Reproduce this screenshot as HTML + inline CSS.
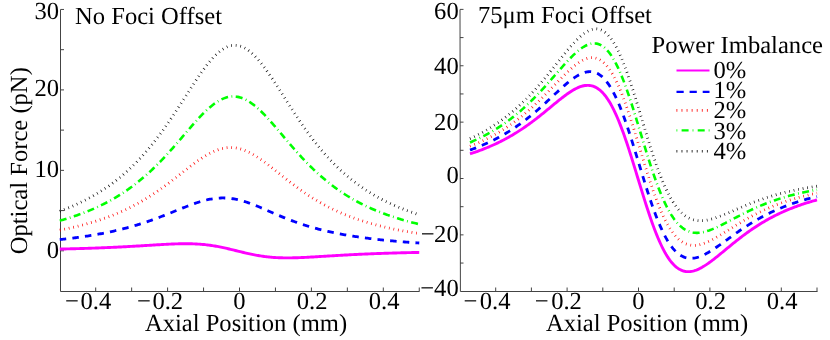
<!DOCTYPE html>
<html><head><meta charset="utf-8"><title>Optical Force</title>
<style>html,body{margin:0;padding:0;background:#fff;}body{width:830px;height:340px;position:relative;overflow:hidden;font-family:"Liberation Serif",serif;}</style>
</head><body>
<svg width="830" height="340" viewBox="0 0 830 340" style="position:absolute;left:0;top:0;will-change:transform">
<rect width="830" height="340" fill="#fff"/>
<path d="M60.5 9.5 L60.5 291.5 H419.5" fill="none" stroke="#444" stroke-width="1"/>
<path d="M95.70 291.5 v-4.0" stroke="#444" stroke-width="1"/>
<path d="M131.65 291.5 v-4.0" stroke="#444" stroke-width="1"/>
<path d="M167.60 291.5 v-4.0" stroke="#444" stroke-width="1"/>
<path d="M203.55 291.5 v-4.0" stroke="#444" stroke-width="1"/>
<path d="M239.50 291.5 v-4.0" stroke="#444" stroke-width="1"/>
<path d="M275.45 291.5 v-4.0" stroke="#444" stroke-width="1"/>
<path d="M311.40 291.5 v-4.0" stroke="#444" stroke-width="1"/>
<path d="M347.35 291.5 v-4.0" stroke="#444" stroke-width="1"/>
<path d="M383.30 291.5 v-4.0" stroke="#444" stroke-width="1"/>
<path d="M419.25 291.5 v-4.0" stroke="#444" stroke-width="1"/>
<path d="M60.5 250.80 h3.5" stroke="#444" stroke-width="1"/>
<path d="M60.5 210.58 h3.5" stroke="#444" stroke-width="1"/>
<path d="M60.5 170.35 h3.5" stroke="#444" stroke-width="1"/>
<path d="M60.5 130.12 h3.5" stroke="#444" stroke-width="1"/>
<path d="M60.5 89.90 h3.5" stroke="#444" stroke-width="1"/>
<path d="M60.5 49.68 h3.5" stroke="#444" stroke-width="1"/>
<path d="M60.5 9.45 h3.5" stroke="#444" stroke-width="1"/>
<path d="M460.0 9.5 L460.4 291.5 H817.5" fill="none" stroke="#444" stroke-width="1"/>
<path d="M495.70 291.5 v-4.0" stroke="#444" stroke-width="1"/>
<path d="M531.40 291.5 v-4.0" stroke="#444" stroke-width="1"/>
<path d="M567.10 291.5 v-4.0" stroke="#444" stroke-width="1"/>
<path d="M602.80 291.5 v-4.0" stroke="#444" stroke-width="1"/>
<path d="M638.50 291.5 v-4.0" stroke="#444" stroke-width="1"/>
<path d="M674.20 291.5 v-4.0" stroke="#444" stroke-width="1"/>
<path d="M709.90 291.5 v-4.0" stroke="#444" stroke-width="1"/>
<path d="M745.60 291.5 v-4.0" stroke="#444" stroke-width="1"/>
<path d="M781.30 291.5 v-4.0" stroke="#444" stroke-width="1"/>
<path d="M817.00 291.5 v-4.0" stroke="#444" stroke-width="1"/>
<path d="M460.0 263.06 h3.5" stroke="#444" stroke-width="1"/>
<path d="M460.0 234.87 h3.5" stroke="#444" stroke-width="1"/>
<path d="M460.0 206.69 h3.5" stroke="#444" stroke-width="1"/>
<path d="M460.0 178.50 h3.5" stroke="#444" stroke-width="1"/>
<path d="M460.0 150.31 h3.5" stroke="#444" stroke-width="1"/>
<path d="M460.0 122.13 h3.5" stroke="#444" stroke-width="1"/>
<path d="M460.0 93.95 h3.5" stroke="#444" stroke-width="1"/>
<path d="M460.0 65.76 h3.5" stroke="#444" stroke-width="1"/>
<path d="M460.0 37.58 h3.5" stroke="#444" stroke-width="1"/>
<path d="M460.0 9.39 h3.5" stroke="#444" stroke-width="1"/>
<path d="M59.75 249.07 L60.95 249.05 L62.15 249.02 L63.36 248.99 L64.56 248.96 L65.76 248.94 L66.96 248.91 L68.17 248.88 L69.37 248.85 L70.57 248.82 L71.77 248.79 L72.98 248.76 L74.18 248.73 L75.38 248.69 L76.58 248.66 L77.79 248.63 L78.99 248.59 L80.19 248.56 L81.39 248.52 L82.59 248.49 L83.80 248.45 L85.00 248.41 L86.20 248.37 L87.40 248.33 L88.61 248.30 L89.81 248.26 L91.01 248.21 L92.21 248.17 L93.42 248.13 L94.62 248.09 L95.82 248.04 L97.02 248.00 L98.22 247.95 L99.43 247.91 L100.63 247.86 L101.83 247.81 L103.03 247.77 L104.24 247.72 L105.44 247.67 L106.64 247.61 L107.84 247.56 L109.05 247.51 L110.25 247.46 L111.45 247.40 L112.65 247.35 L113.86 247.29 L115.06 247.24 L116.26 247.18 L117.46 247.12 L118.66 247.06 L119.87 247.00 L121.07 246.94 L122.27 246.88 L123.47 246.81 L124.68 246.75 L125.88 246.69 L127.08 246.62 L128.28 246.55 L129.49 246.49 L130.69 246.42 L131.89 246.35 L133.09 246.28 L134.30 246.21 L135.50 246.14 L136.70 246.07 L137.90 246.00 L139.10 245.93 L140.31 245.86 L141.51 245.78 L142.71 245.71 L143.91 245.64 L145.12 245.56 L146.32 245.49 L147.52 245.41 L148.72 245.34 L149.93 245.27 L151.13 245.19 L152.33 245.12 L153.53 245.04 L154.73 244.97 L155.94 244.90 L157.14 244.82 L158.34 244.75 L159.54 244.68 L160.75 244.61 L161.95 244.54 L163.15 244.48 L164.35 244.41 L165.56 244.35 L166.76 244.29 L167.96 244.23 L169.16 244.17 L170.37 244.11 L171.57 244.06 L172.77 244.01 L173.97 243.96 L175.17 243.92 L176.38 243.88 L177.58 243.84 L178.78 243.81 L179.98 243.78 L181.19 243.76 L182.39 243.74 L183.59 243.73 L184.79 243.72 L186.00 243.72 L187.20 243.73 L188.40 243.74 L189.60 243.75 L190.81 243.78 L192.01 243.81 L193.21 243.85 L194.41 243.89 L195.61 243.95 L196.82 244.01 L198.02 244.08 L199.22 244.16 L200.42 244.24 L201.63 244.34 L202.83 244.45 L204.03 244.56 L205.23 244.68 L206.44 244.82 L207.64 244.96 L208.84 245.11 L210.04 245.27 L211.24 245.45 L212.45 245.63 L213.65 245.82 L214.85 246.01 L216.05 246.22 L217.26 246.44 L218.46 246.66 L219.66 246.90 L220.86 247.14 L222.07 247.39 L223.27 247.64 L224.47 247.90 L225.67 248.17 L226.88 248.45 L228.08 248.72 L229.28 249.01 L230.48 249.29 L231.68 249.59 L232.89 249.88 L234.09 250.17 L235.29 250.47 L236.49 250.77 L237.70 251.07 L238.90 251.36 L240.10 251.66 L241.30 251.95 L242.51 252.24 L243.71 252.53 L244.91 252.81 L246.11 253.09 L247.32 253.37 L248.52 253.64 L249.72 253.90 L250.92 254.16 L252.12 254.41 L253.33 254.65 L254.53 254.89 L255.73 255.11 L256.93 255.33 L258.14 255.54 L259.34 255.74 L260.54 255.93 L261.74 256.12 L262.95 256.29 L264.15 256.45 L265.35 256.61 L266.55 256.75 L267.76 256.89 L268.96 257.01 L270.16 257.13 L271.36 257.24 L272.56 257.34 L273.77 257.43 L274.97 257.51 L276.17 257.58 L277.37 257.64 L278.58 257.70 L279.78 257.74 L280.98 257.78 L282.18 257.82 L283.39 257.84 L284.59 257.86 L285.79 257.87 L286.99 257.88 L288.19 257.88 L289.40 257.87 L290.60 257.86 L291.80 257.84 L293.00 257.82 L294.21 257.79 L295.41 257.76 L296.61 257.73 L297.81 257.69 L299.02 257.65 L300.22 257.60 L301.42 257.55 L302.62 257.50 L303.83 257.44 L305.03 257.39 L306.23 257.33 L307.43 257.27 L308.63 257.20 L309.84 257.14 L311.04 257.07 L312.24 257.00 L313.44 256.93 L314.65 256.86 L315.85 256.79 L317.05 256.72 L318.25 256.65 L319.46 256.57 L320.66 256.50 L321.86 256.42 L323.06 256.35 L324.27 256.28 L325.47 256.20 L326.67 256.13 L327.87 256.05 L329.07 255.98 L330.28 255.91 L331.48 255.83 L332.68 255.76 L333.88 255.69 L335.09 255.61 L336.29 255.54 L337.49 255.47 L338.69 255.40 L339.90 255.33 L341.10 255.26 L342.30 255.19 L343.50 255.13 L344.70 255.06 L345.91 254.99 L347.11 254.93 L348.31 254.86 L349.51 254.80 L350.72 254.74 L351.92 254.67 L353.12 254.61 L354.32 254.55 L355.53 254.49 L356.73 254.44 L357.93 254.38 L359.13 254.32 L360.34 254.26 L361.54 254.21 L362.74 254.15 L363.94 254.10 L365.14 254.05 L366.35 254.00 L367.55 253.95 L368.75 253.89 L369.95 253.85 L371.16 253.80 L372.36 253.75 L373.56 253.70 L374.76 253.66 L375.97 253.61 L377.17 253.57 L378.37 253.52 L379.57 253.48 L380.78 253.44 L381.98 253.39 L383.18 253.35 L384.38 253.31 L385.58 253.27 L386.79 253.23 L387.99 253.20 L389.19 253.16 L390.39 253.12 L391.60 253.09 L392.80 253.05 L394.00 253.02 L395.20 252.98 L396.41 252.95 L397.61 252.91 L398.81 252.88 L400.01 252.85 L401.21 252.82 L402.42 252.79 L403.62 252.76 L404.82 252.73 L406.02 252.70 L407.23 252.67 L408.43 252.64 L409.63 252.61 L410.83 252.59 L412.04 252.56 L413.24 252.53 L414.44 252.51 L415.64 252.48 L416.85 252.46 L418.05 252.43 L419.25 252.41" fill="none" stroke="#ff00ff" stroke-width="2.9"/>
<path d="M59.75 239.61 L60.95 239.48 L62.15 239.35 L63.36 239.21 L64.56 239.08 L65.76 238.94 L66.96 238.80 L68.17 238.65 L69.37 238.51 L70.57 238.36 L71.77 238.21 L72.98 238.05 L74.18 237.90 L75.38 237.74 L76.58 237.58 L77.79 237.42 L78.99 237.25 L80.19 237.08 L81.39 236.91 L82.59 236.74 L83.80 236.56 L85.00 236.38 L86.20 236.20 L87.40 236.01 L88.61 235.82 L89.81 235.63 L91.01 235.43 L92.21 235.24 L93.42 235.03 L94.62 234.83 L95.82 234.62 L97.02 234.41 L98.22 234.19 L99.43 233.97 L100.63 233.75 L101.83 233.52 L103.03 233.29 L104.24 233.06 L105.44 232.82 L106.64 232.58 L107.84 232.33 L109.05 232.08 L110.25 231.82 L111.45 231.57 L112.65 231.30 L113.86 231.04 L115.06 230.76 L116.26 230.49 L117.46 230.21 L118.66 229.92 L119.87 229.63 L121.07 229.34 L122.27 229.04 L123.47 228.73 L124.68 228.42 L125.88 228.11 L127.08 227.79 L128.28 227.46 L129.49 227.14 L130.69 226.80 L131.89 226.46 L133.09 226.12 L134.30 225.77 L135.50 225.41 L136.70 225.05 L137.90 224.69 L139.10 224.32 L140.31 223.94 L141.51 223.56 L142.71 223.17 L143.91 222.78 L145.12 222.38 L146.32 221.98 L147.52 221.57 L148.72 221.16 L149.93 220.74 L151.13 220.32 L152.33 219.89 L153.53 219.46 L154.73 219.02 L155.94 218.58 L157.14 218.14 L158.34 217.69 L159.54 217.23 L160.75 216.77 L161.95 216.31 L163.15 215.85 L164.35 215.38 L165.56 214.90 L166.76 214.43 L167.96 213.95 L169.16 213.47 L170.37 212.99 L171.57 212.50 L172.77 212.02 L173.97 211.53 L175.17 211.04 L176.38 210.56 L177.58 210.07 L178.78 209.58 L179.98 209.10 L181.19 208.62 L182.39 208.13 L183.59 207.66 L184.79 207.18 L186.00 206.71 L187.20 206.25 L188.40 205.79 L189.60 205.33 L190.81 204.89 L192.01 204.45 L193.21 204.01 L194.41 203.59 L195.61 203.18 L196.82 202.77 L198.02 202.38 L199.22 202.00 L200.42 201.63 L201.63 201.28 L202.83 200.94 L204.03 200.61 L205.23 200.31 L206.44 200.01 L207.64 199.74 L208.84 199.48 L210.04 199.24 L211.24 199.01 L212.45 198.81 L213.65 198.63 L214.85 198.47 L216.05 198.33 L217.26 198.21 L218.46 198.12 L219.66 198.04 L220.86 197.99 L222.07 197.96 L223.27 197.96 L224.47 197.98 L225.67 198.02 L226.88 198.08 L228.08 198.17 L229.28 198.28 L230.48 198.41 L231.68 198.57 L232.89 198.75 L234.09 198.95 L235.29 199.17 L236.49 199.41 L237.70 199.67 L238.90 199.96 L240.10 200.26 L241.30 200.58 L242.51 200.92 L243.71 201.27 L244.91 201.64 L246.11 202.03 L247.32 202.43 L248.52 202.85 L249.72 203.28 L250.92 203.72 L252.12 204.17 L253.33 204.63 L254.53 205.10 L255.73 205.58 L256.93 206.07 L258.14 206.57 L259.34 207.07 L260.54 207.58 L261.74 208.09 L262.95 208.60 L264.15 209.12 L265.35 209.64 L266.55 210.17 L267.76 210.69 L268.96 211.22 L270.16 211.74 L271.36 212.26 L272.56 212.78 L273.77 213.31 L274.97 213.82 L276.17 214.34 L277.37 214.85 L278.58 215.36 L279.78 215.86 L280.98 216.37 L282.18 216.86 L283.39 217.35 L284.59 217.84 L285.79 218.32 L286.99 218.80 L288.19 219.27 L289.40 219.73 L290.60 220.19 L291.80 220.65 L293.00 221.09 L294.21 221.53 L295.41 221.97 L296.61 222.40 L297.81 222.82 L299.02 223.23 L300.22 223.64 L301.42 224.05 L302.62 224.44 L303.83 224.83 L305.03 225.22 L306.23 225.59 L307.43 225.97 L308.63 226.33 L309.84 226.69 L311.04 227.04 L312.24 227.39 L313.44 227.73 L314.65 228.07 L315.85 228.40 L317.05 228.72 L318.25 229.04 L319.46 229.35 L320.66 229.66 L321.86 229.96 L323.06 230.26 L324.27 230.55 L325.47 230.84 L326.67 231.12 L327.87 231.39 L329.07 231.66 L330.28 231.93 L331.48 232.19 L332.68 232.45 L333.88 232.70 L335.09 232.95 L336.29 233.19 L337.49 233.43 L338.69 233.67 L339.90 233.90 L341.10 234.12 L342.30 234.35 L343.50 234.57 L344.70 234.78 L345.91 234.99 L347.11 235.20 L348.31 235.40 L349.51 235.60 L350.72 235.80 L351.92 236.00 L353.12 236.19 L354.32 236.37 L355.53 236.56 L356.73 236.74 L357.93 236.91 L359.13 237.09 L360.34 237.26 L361.54 237.43 L362.74 237.60 L363.94 237.76 L365.14 237.92 L366.35 238.08 L367.55 238.23 L368.75 238.38 L369.95 238.53 L371.16 238.68 L372.36 238.83 L373.56 238.97 L374.76 239.11 L375.97 239.25 L377.17 239.38 L378.37 239.52 L379.57 239.65 L380.78 239.78 L381.98 239.90 L383.18 240.03 L384.38 240.15 L385.58 240.27 L386.79 240.39 L387.99 240.51 L389.19 240.63 L390.39 240.74 L391.60 240.85 L392.80 240.96 L394.00 241.07 L395.20 241.18 L396.41 241.28 L397.61 241.39 L398.81 241.49 L400.01 241.59 L401.21 241.69 L402.42 241.79 L403.62 241.88 L404.82 241.98 L406.02 242.07 L407.23 242.16 L408.43 242.25 L409.63 242.34 L410.83 242.43 L412.04 242.52 L413.24 242.60 L414.44 242.68 L415.64 242.77 L416.85 242.85 L418.05 242.93 L419.25 243.01" fill="none" stroke="#0000ff" stroke-width="2.8" stroke-dasharray="6.5 6.2"/>
<path d="M59.75 230.15 L60.95 229.91 L62.15 229.67 L63.36 229.43 L64.56 229.19 L65.76 228.94 L66.96 228.68 L68.17 228.43 L69.37 228.16 L70.57 227.90 L71.77 227.63 L72.98 227.35 L74.18 227.07 L75.38 226.79 L76.58 226.50 L77.79 226.21 L78.99 225.91 L80.19 225.61 L81.39 225.30 L82.59 224.99 L83.80 224.67 L85.00 224.35 L86.20 224.02 L87.40 223.69 L88.61 223.35 L89.81 223.01 L91.01 222.66 L92.21 222.30 L93.42 221.94 L94.62 221.57 L95.82 221.20 L97.02 220.82 L98.22 220.43 L99.43 220.04 L100.63 219.64 L101.83 219.23 L103.03 218.82 L104.24 218.40 L105.44 217.97 L106.64 217.54 L107.84 217.10 L109.05 216.65 L110.25 216.19 L111.45 215.73 L112.65 215.26 L113.86 214.78 L115.06 214.29 L116.26 213.80 L117.46 213.29 L118.66 212.78 L119.87 212.26 L121.07 211.73 L122.27 211.20 L123.47 210.65 L124.68 210.09 L125.88 209.53 L127.08 208.96 L128.28 208.37 L129.49 207.78 L130.69 207.18 L131.89 206.57 L133.09 205.95 L134.30 205.32 L135.50 204.68 L136.70 204.03 L137.90 203.37 L139.10 202.70 L140.31 202.02 L141.51 201.33 L142.71 200.63 L143.91 199.92 L145.12 199.20 L146.32 198.47 L147.52 197.73 L148.72 196.98 L149.93 196.22 L151.13 195.45 L152.33 194.67 L153.53 193.88 L154.73 193.08 L155.94 192.27 L157.14 191.45 L158.34 190.62 L159.54 189.78 L160.75 188.93 L161.95 188.08 L163.15 187.21 L164.35 186.34 L165.56 185.46 L166.76 184.57 L167.96 183.67 L169.16 182.77 L170.37 181.86 L171.57 180.94 L172.77 180.02 L173.97 179.10 L175.17 178.17 L176.38 177.23 L177.58 176.29 L178.78 175.35 L179.98 174.41 L181.19 173.47 L182.39 172.53 L183.59 171.58 L184.79 170.64 L186.00 169.70 L187.20 168.77 L188.40 167.84 L189.60 166.91 L190.81 165.99 L192.01 165.08 L193.21 164.18 L194.41 163.29 L195.61 162.41 L196.82 161.54 L198.02 160.69 L199.22 159.85 L200.42 159.03 L201.63 158.22 L202.83 157.43 L204.03 156.67 L205.23 155.93 L206.44 155.21 L207.64 154.51 L208.84 153.84 L210.04 153.20 L211.24 152.58 L212.45 152.00 L213.65 151.45 L214.85 150.93 L216.05 150.44 L217.26 149.99 L218.46 149.57 L219.66 149.19 L220.86 148.85 L222.07 148.54 L223.27 148.28 L224.47 148.05 L225.67 147.86 L226.88 147.72 L228.08 147.61 L229.28 147.55 L230.48 147.53 L231.68 147.55 L232.89 147.61 L234.09 147.72 L235.29 147.86 L236.49 148.05 L237.70 148.28 L238.90 148.55 L240.10 148.86 L241.30 149.20 L242.51 149.59 L243.71 150.01 L244.91 150.47 L246.11 150.96 L247.32 151.49 L248.52 152.05 L249.72 152.65 L250.92 153.27 L252.12 153.93 L253.33 154.61 L254.53 155.32 L255.73 156.05 L256.93 156.81 L258.14 157.59 L259.34 158.40 L260.54 159.22 L261.74 160.06 L262.95 160.92 L264.15 161.79 L265.35 162.68 L266.55 163.58 L267.76 164.49 L268.96 165.42 L270.16 166.35 L271.36 167.29 L272.56 168.23 L273.77 169.18 L274.97 170.14 L276.17 171.10 L277.37 172.06 L278.58 173.02 L279.78 173.98 L280.98 174.95 L282.18 175.91 L283.39 176.86 L284.59 177.82 L285.79 178.77 L286.99 179.72 L288.19 180.66 L289.40 181.60 L290.60 182.52 L291.80 183.45 L293.00 184.36 L294.21 185.27 L295.41 186.17 L296.61 187.06 L297.81 187.95 L299.02 188.82 L300.22 189.69 L301.42 190.54 L302.62 191.39 L303.83 192.22 L305.03 193.05 L306.23 193.86 L307.43 194.67 L308.63 195.46 L309.84 196.25 L311.04 197.02 L312.24 197.78 L313.44 198.53 L314.65 199.27 L315.85 200.00 L317.05 200.72 L318.25 201.43 L319.46 202.13 L320.66 202.82 L321.86 203.50 L323.06 204.17 L324.27 204.82 L325.47 205.47 L326.67 206.11 L327.87 206.73 L329.07 207.35 L330.28 207.95 L331.48 208.55 L332.68 209.14 L333.88 209.72 L335.09 210.28 L336.29 210.84 L337.49 211.39 L338.69 211.93 L339.90 212.46 L341.10 212.99 L342.30 213.50 L343.50 214.01 L344.70 214.50 L345.91 214.99 L347.11 215.47 L348.31 215.95 L349.51 216.41 L350.72 216.87 L351.92 217.32 L353.12 217.76 L354.32 218.19 L355.53 218.62 L356.73 219.04 L357.93 219.45 L359.13 219.86 L360.34 220.26 L361.54 220.65 L362.74 221.04 L363.94 221.42 L365.14 221.79 L366.35 222.16 L367.55 222.52 L368.75 222.87 L369.95 223.22 L371.16 223.56 L372.36 223.90 L373.56 224.23 L374.76 224.56 L375.97 224.88 L377.17 225.20 L378.37 225.51 L379.57 225.82 L380.78 226.12 L381.98 226.41 L383.18 226.70 L384.38 226.99 L385.58 227.27 L386.79 227.55 L387.99 227.82 L389.19 228.09 L390.39 228.36 L391.60 228.62 L392.80 228.87 L394.00 229.13 L395.20 229.37 L396.41 229.62 L397.61 229.86 L398.81 230.09 L400.01 230.33 L401.21 230.56 L402.42 230.78 L403.62 231.01 L404.82 231.22 L406.02 231.44 L407.23 231.65 L408.43 231.86 L409.63 232.07 L410.83 232.27 L412.04 232.47 L413.24 232.67 L414.44 232.86 L415.64 233.05 L416.85 233.24 L418.05 233.43 L419.25 233.61" fill="none" stroke="#ff0000" stroke-width="2.8" stroke-dasharray="0.7 3.9"/>
<path d="M59.75 220.69 L60.95 220.35 L62.15 220.00 L63.36 219.65 L64.56 219.30 L65.76 218.94 L66.96 218.57 L68.17 218.20 L69.37 217.82 L70.57 217.44 L71.77 217.05 L72.98 216.65 L74.18 216.25 L75.38 215.84 L76.58 215.42 L77.79 215.00 L78.99 214.57 L80.19 214.14 L81.39 213.69 L82.59 213.24 L83.80 212.78 L85.00 212.32 L86.20 211.85 L87.40 211.37 L88.61 210.88 L89.81 210.38 L91.01 209.88 L92.21 209.36 L93.42 208.84 L94.62 208.31 L95.82 207.77 L97.02 207.22 L98.22 206.67 L99.43 206.10 L100.63 205.53 L101.83 204.94 L103.03 204.35 L104.24 203.74 L105.44 203.13 L106.64 202.50 L107.84 201.86 L109.05 201.22 L110.25 200.56 L111.45 199.89 L112.65 199.21 L113.86 198.52 L115.06 197.82 L116.26 197.11 L117.46 196.38 L118.66 195.64 L119.87 194.89 L121.07 194.13 L122.27 193.35 L123.47 192.57 L124.68 191.77 L125.88 190.95 L127.08 190.13 L128.28 189.28 L129.49 188.43 L130.69 187.56 L131.89 186.68 L133.09 185.78 L134.30 184.87 L135.50 183.95 L136.70 183.01 L137.90 182.06 L139.10 181.09 L140.31 180.11 L141.51 179.11 L142.71 178.10 L143.91 177.07 L145.12 176.02 L146.32 174.97 L147.52 173.89 L148.72 172.80 L149.93 171.70 L151.13 170.58 L152.33 169.45 L153.53 168.30 L154.73 167.13 L155.94 165.96 L157.14 164.76 L158.34 163.55 L159.54 162.33 L160.75 161.10 L161.95 159.84 L163.15 158.58 L164.35 157.30 L165.56 156.01 L166.76 154.71 L167.96 153.40 L169.16 152.07 L170.37 150.73 L171.57 149.39 L172.77 148.03 L173.97 146.66 L175.17 145.29 L176.38 143.91 L177.58 142.52 L178.78 141.12 L179.98 139.73 L181.19 138.32 L182.39 136.92 L183.59 135.51 L184.79 134.10 L186.00 132.70 L187.20 131.29 L188.40 129.89 L189.60 128.49 L190.81 127.10 L192.01 125.72 L193.21 124.35 L194.41 122.99 L195.61 121.64 L196.82 120.31 L198.02 118.99 L199.22 117.69 L200.42 116.42 L201.63 115.16 L202.83 113.93 L204.03 112.72 L205.23 111.55 L206.44 110.40 L207.64 109.29 L208.84 108.20 L210.04 107.16 L211.24 106.15 L212.45 105.19 L213.65 104.26 L214.85 103.38 L216.05 102.55 L217.26 101.76 L218.46 101.02 L219.66 100.34 L220.86 99.70 L222.07 99.12 L223.27 98.59 L224.47 98.12 L225.67 97.71 L226.88 97.35 L228.08 97.06 L229.28 96.82 L230.48 96.65 L231.68 96.53 L232.89 96.48 L234.09 96.49 L235.29 96.56 L236.49 96.69 L237.70 96.89 L238.90 97.14 L240.10 97.45 L241.30 97.83 L242.51 98.26 L243.71 98.75 L244.91 99.30 L246.11 99.90 L247.32 100.55 L248.52 101.26 L249.72 102.02 L250.92 102.83 L252.12 103.69 L253.33 104.59 L254.53 105.54 L255.73 106.52 L256.93 107.55 L258.14 108.62 L259.34 109.73 L260.54 110.86 L261.74 112.03 L262.95 113.23 L264.15 114.46 L265.35 115.72 L266.55 117.00 L267.76 118.30 L268.96 119.62 L270.16 120.96 L271.36 122.31 L272.56 123.68 L273.77 125.06 L274.97 126.46 L276.17 127.86 L277.37 129.27 L278.58 130.68 L279.78 132.10 L280.98 133.53 L282.18 134.95 L283.39 136.38 L284.59 137.80 L285.79 139.22 L286.99 140.64 L288.19 142.05 L289.40 143.46 L290.60 144.86 L291.80 146.25 L293.00 147.64 L294.21 149.01 L295.41 150.38 L296.61 151.73 L297.81 153.08 L299.02 154.41 L300.22 155.73 L301.42 157.04 L302.62 158.33 L303.83 159.61 L305.03 160.88 L306.23 162.13 L307.43 163.37 L308.63 164.59 L309.84 165.80 L311.04 166.99 L312.24 168.17 L313.44 169.33 L314.65 170.48 L315.85 171.61 L317.05 172.73 L318.25 173.83 L319.46 174.91 L320.66 175.98 L321.86 177.03 L323.06 178.07 L324.27 179.10 L325.47 180.10 L326.67 181.09 L327.87 182.07 L329.07 183.03 L330.28 183.98 L331.48 184.91 L332.68 185.83 L333.88 186.73 L335.09 187.62 L336.29 188.49 L337.49 189.35 L338.69 190.20 L339.90 191.03 L341.10 191.85 L342.30 192.65 L343.50 193.45 L344.70 194.23 L345.91 194.99 L347.11 195.74 L348.31 196.49 L349.51 197.21 L350.72 197.93 L351.92 198.64 L353.12 199.33 L354.32 200.01 L355.53 200.68 L356.73 201.34 L357.93 201.99 L359.13 202.63 L360.34 203.25 L361.54 203.87 L362.74 204.48 L363.94 205.07 L365.14 205.66 L366.35 206.24 L367.55 206.80 L368.75 207.36 L369.95 207.91 L371.16 208.45 L372.36 208.98 L373.56 209.50 L374.76 210.01 L375.97 210.52 L377.17 211.02 L378.37 211.50 L379.57 211.98 L380.78 212.46 L381.98 212.92 L383.18 213.38 L384.38 213.83 L385.58 214.27 L386.79 214.71 L387.99 215.14 L389.19 215.56 L390.39 215.97 L391.60 216.38 L392.80 216.78 L394.00 217.18 L395.20 217.57 L396.41 217.95 L397.61 218.33 L398.81 218.70 L400.01 219.07 L401.21 219.43 L402.42 219.78 L403.62 220.13 L404.82 220.47 L406.02 220.81 L407.23 221.14 L408.43 221.47 L409.63 221.79 L410.83 222.11 L412.04 222.43 L413.24 222.73 L414.44 223.04 L415.64 223.34 L416.85 223.63 L418.05 223.92 L419.25 224.21" fill="none" stroke="#00ff00" stroke-width="2.6" stroke-dasharray="7 3.45 0.8 3.45"/>
<path d="M59.75 211.22 L60.95 210.78 L62.15 210.33 L63.36 209.87 L64.56 209.41 L65.76 208.94 L66.96 208.46 L68.17 207.97 L69.37 207.48 L70.57 206.98 L71.77 206.47 L72.98 205.95 L74.18 205.42 L75.38 204.89 L76.58 204.34 L77.79 203.79 L78.99 203.23 L80.19 202.66 L81.39 202.08 L82.59 201.49 L83.80 200.90 L85.00 200.29 L86.20 199.67 L87.40 199.04 L88.61 198.40 L89.81 197.76 L91.01 197.10 L92.21 196.43 L93.42 195.74 L94.62 195.05 L95.82 194.35 L97.02 193.63 L98.22 192.91 L99.43 192.17 L100.63 191.41 L101.83 190.65 L103.03 189.87 L104.24 189.08 L105.44 188.28 L106.64 187.46 L107.84 186.63 L109.05 185.79 L110.25 184.93 L111.45 184.05 L112.65 183.17 L113.86 182.27 L115.06 181.35 L116.26 180.42 L117.46 179.47 L118.66 178.50 L119.87 177.52 L121.07 176.53 L122.27 175.51 L123.47 174.48 L124.68 173.44 L125.88 172.37 L127.08 171.29 L128.28 170.19 L129.49 169.08 L130.69 167.94 L131.89 166.79 L133.09 165.62 L134.30 164.43 L135.50 163.22 L136.70 161.99 L137.90 160.74 L139.10 159.48 L140.31 158.19 L141.51 156.88 L142.71 155.56 L143.91 154.21 L145.12 152.85 L146.32 151.46 L147.52 150.05 L148.72 148.63 L149.93 147.18 L151.13 145.71 L152.33 144.23 L153.53 142.72 L154.73 141.19 L155.94 139.64 L157.14 138.07 L158.34 136.49 L159.54 134.88 L160.75 133.26 L161.95 131.61 L163.15 129.95 L164.35 128.27 L165.56 126.57 L166.76 124.85 L167.96 123.12 L169.16 121.37 L170.37 119.61 L171.57 117.83 L172.77 116.04 L173.97 114.23 L175.17 112.41 L176.38 110.58 L177.58 108.74 L178.78 106.90 L179.98 105.04 L181.19 103.18 L182.39 101.31 L183.59 99.44 L184.79 97.56 L186.00 95.69 L187.20 93.81 L188.40 91.94 L189.60 90.07 L190.81 88.21 L192.01 86.36 L193.21 84.52 L194.41 82.69 L195.61 80.87 L196.82 79.08 L198.02 77.30 L199.22 75.54 L200.42 73.81 L201.63 72.10 L202.83 70.42 L204.03 68.78 L205.23 67.17 L206.44 65.59 L207.64 64.06 L208.84 62.57 L210.04 61.12 L211.24 59.72 L212.45 58.38 L213.65 57.08 L214.85 55.84 L216.05 54.66 L217.26 53.53 L218.46 52.48 L219.66 51.48 L220.86 50.55 L222.07 49.70 L223.27 48.91 L224.47 48.19 L225.67 47.55 L226.88 46.99 L228.08 46.50 L229.28 46.10 L230.48 45.77 L231.68 45.52 L232.89 45.35 L234.09 45.26 L235.29 45.26 L236.49 45.34 L237.70 45.49 L238.90 45.73 L240.10 46.05 L241.30 46.45 L242.51 46.93 L243.71 47.49 L244.91 48.12 L246.11 48.83 L247.32 49.61 L248.52 50.47 L249.72 51.39 L250.92 52.39 L252.12 53.45 L253.33 54.57 L254.53 55.75 L255.73 57.00 L256.93 58.29 L258.14 59.65 L259.34 61.05 L260.54 62.51 L261.74 64.01 L262.95 65.55 L264.15 67.13 L265.35 68.75 L266.55 70.41 L267.76 72.10 L268.96 73.82 L270.16 75.57 L271.36 77.34 L272.56 79.13 L273.77 80.94 L274.97 82.77 L276.17 84.62 L277.37 86.48 L278.58 88.35 L279.78 90.22 L280.98 92.11 L282.18 94.00 L283.39 95.89 L284.59 97.78 L285.79 99.67 L286.99 101.56 L288.19 103.44 L289.40 105.32 L290.60 107.19 L291.80 109.05 L293.00 110.91 L294.21 112.75 L295.41 114.58 L296.61 116.40 L297.81 118.20 L299.02 120.00 L300.22 121.77 L301.42 123.53 L302.62 125.27 L303.83 127.00 L305.03 128.71 L306.23 130.40 L307.43 132.07 L308.63 133.72 L309.84 135.35 L311.04 136.97 L312.24 138.56 L313.44 140.13 L314.65 141.69 L315.85 143.22 L317.05 144.73 L318.25 146.22 L319.46 147.69 L320.66 149.14 L321.86 150.57 L323.06 151.98 L324.27 153.37 L325.47 154.74 L326.67 156.08 L327.87 157.41 L329.07 158.72 L330.28 160.00 L331.48 161.27 L332.68 162.52 L333.88 163.74 L335.09 164.95 L336.29 166.14 L337.49 167.31 L338.69 168.46 L339.90 169.60 L341.10 170.71 L342.30 171.81 L343.50 172.89 L344.70 173.95 L345.91 174.99 L347.11 176.02 L348.31 177.03 L349.51 178.02 L350.72 179.00 L351.92 179.96 L353.12 180.90 L354.32 181.83 L355.53 182.74 L356.73 183.64 L357.93 184.53 L359.13 185.40 L360.34 186.25 L361.54 187.09 L362.74 187.92 L363.94 188.73 L365.14 189.53 L366.35 190.32 L367.55 191.09 L368.75 191.85 L369.95 192.60 L371.16 193.33 L372.36 194.06 L373.56 194.77 L374.76 195.47 L375.97 196.15 L377.17 196.83 L378.37 197.50 L379.57 198.15 L380.78 198.80 L381.98 199.43 L383.18 200.05 L384.38 200.67 L385.58 201.27 L386.79 201.87 L387.99 202.45 L389.19 203.02 L390.39 203.59 L391.60 204.15 L392.80 204.70 L394.00 205.23 L395.20 205.77 L396.41 206.29 L397.61 206.80 L398.81 207.31 L400.01 207.81 L401.21 208.30 L402.42 208.78 L403.62 209.25 L404.82 209.72 L406.02 210.18 L407.23 210.64 L408.43 211.08 L409.63 211.52 L410.83 211.95 L412.04 212.38 L413.24 212.80 L414.44 213.21 L415.64 213.62 L416.85 214.02 L418.05 214.42 L419.25 214.81" fill="none" stroke="#000000" stroke-width="2.8" stroke-dasharray="0.65 3.95"/>
<path d="M470.00 153.84 L471.16 153.47 L472.32 153.09 L473.48 152.71 L474.64 152.31 L475.80 151.91 L476.96 151.51 L478.12 151.10 L479.28 150.68 L480.44 150.25 L481.60 149.81 L482.76 149.37 L483.92 148.92 L485.08 148.46 L486.24 147.99 L487.40 147.52 L488.56 147.04 L489.73 146.54 L490.89 146.04 L492.05 145.54 L493.21 145.02 L494.37 144.49 L495.53 143.95 L496.69 143.41 L497.85 142.85 L499.01 142.29 L500.17 141.72 L501.33 141.13 L502.49 140.54 L503.65 139.94 L504.81 139.32 L505.97 138.70 L507.13 138.07 L508.29 137.42 L509.45 136.77 L510.62 136.10 L511.78 135.43 L512.94 134.74 L514.10 134.05 L515.26 133.34 L516.42 132.62 L517.58 131.89 L518.74 131.15 L519.90 130.40 L521.06 129.64 L522.22 128.87 L523.38 128.08 L524.54 127.29 L525.70 126.49 L526.86 125.67 L528.02 124.85 L529.18 124.01 L530.34 123.17 L531.51 122.31 L532.67 121.45 L533.83 120.57 L534.99 119.69 L536.15 118.80 L537.31 117.89 L538.47 116.99 L539.63 116.07 L540.79 115.14 L541.95 114.21 L543.11 113.28 L544.27 112.34 L545.43 111.39 L546.59 110.44 L547.75 109.48 L548.91 108.53 L550.07 107.57 L551.23 106.61 L552.39 105.65 L553.56 104.69 L554.72 103.73 L555.88 102.78 L557.04 101.83 L558.20 100.89 L559.36 99.96 L560.52 99.04 L561.68 98.13 L562.84 97.23 L564.00 96.34 L565.16 95.47 L566.32 94.62 L567.48 93.80 L568.64 92.99 L569.80 92.21 L570.96 91.46 L572.12 90.73 L573.28 90.04 L574.45 89.39 L575.61 88.77 L576.77 88.19 L577.93 87.66 L579.09 87.17 L580.25 86.74 L581.41 86.36 L582.57 86.03 L583.73 85.77 L584.89 85.56 L586.05 85.43 L587.21 85.36 L588.37 85.37 L589.53 85.45 L590.69 85.62 L591.85 85.86 L593.01 86.20 L594.17 86.62 L595.34 87.14 L596.50 87.76 L597.66 88.47 L598.82 89.29 L599.98 90.21 L601.14 91.24 L602.30 92.38 L603.46 93.63 L604.62 95.00 L605.78 96.48 L606.94 98.08 L608.10 99.80 L609.26 101.63 L610.42 103.58 L611.58 105.66 L612.74 107.85 L613.90 110.15 L615.06 112.58 L616.23 115.11 L617.39 117.76 L618.55 120.52 L619.71 123.38 L620.87 126.35 L622.03 129.42 L623.19 132.58 L624.35 135.83 L625.51 139.16 L626.67 142.57 L627.83 146.06 L628.99 149.61 L630.15 153.21 L631.31 156.88 L632.47 160.58 L633.63 164.33 L634.79 168.10 L635.95 171.90 L637.11 175.71 L638.28 179.52 L639.44 183.34 L640.60 187.14 L641.76 190.92 L642.92 194.68 L644.08 198.41 L645.24 202.09 L646.40 205.73 L647.56 209.31 L648.72 212.82 L649.88 216.27 L651.04 219.64 L652.20 222.93 L653.36 226.13 L654.52 229.24 L655.68 232.25 L656.84 235.16 L658.00 237.97 L659.17 240.67 L660.33 243.26 L661.49 245.74 L662.65 248.10 L663.81 250.34 L664.97 252.47 L666.13 254.48 L667.29 256.37 L668.45 258.14 L669.61 259.79 L670.77 261.33 L671.93 262.75 L673.09 264.05 L674.25 265.24 L675.41 266.32 L676.57 267.30 L677.73 268.16 L678.89 268.92 L680.06 269.58 L681.22 270.15 L682.38 270.62 L683.54 270.99 L684.70 271.28 L685.86 271.48 L687.02 271.60 L688.18 271.65 L689.34 271.61 L690.50 271.51 L691.66 271.34 L692.82 271.10 L693.98 270.80 L695.14 270.44 L696.30 270.03 L697.46 269.57 L698.62 269.06 L699.78 268.50 L700.95 267.91 L702.11 267.27 L703.27 266.59 L704.43 265.88 L705.59 265.14 L706.75 264.38 L707.91 263.58 L709.07 262.76 L710.23 261.92 L711.39 261.06 L712.55 260.19 L713.71 259.29 L714.87 258.39 L716.03 257.47 L717.19 256.54 L718.35 255.60 L719.51 254.66 L720.67 253.71 L721.84 252.75 L723.00 251.80 L724.16 250.84 L725.32 249.88 L726.48 248.92 L727.64 247.96 L728.80 247.01 L729.96 246.05 L731.12 245.10 L732.28 244.16 L733.44 243.22 L734.60 242.29 L735.76 241.36 L736.92 240.44 L738.08 239.53 L739.24 238.62 L740.40 237.73 L741.56 236.84 L742.72 235.96 L743.89 235.09 L745.05 234.23 L746.21 233.38 L747.37 232.54 L748.53 231.71 L749.69 230.89 L750.85 230.08 L752.01 229.28 L753.17 228.49 L754.33 227.72 L755.49 226.95 L756.65 226.19 L757.81 225.45 L758.97 224.72 L760.13 223.99 L761.29 223.28 L762.45 222.58 L763.61 221.89 L764.78 221.21 L765.94 220.54 L767.10 219.88 L768.26 219.23 L769.42 218.59 L770.58 217.96 L771.74 217.35 L772.90 216.74 L774.06 216.14 L775.22 215.55 L776.38 214.97 L777.54 214.41 L778.70 213.85 L779.86 213.30 L781.02 212.76 L782.18 212.23 L783.34 211.70 L784.50 211.19 L785.67 210.69 L786.83 210.19 L787.99 209.70 L789.15 209.22 L790.31 208.75 L791.47 208.29 L792.63 207.84 L793.79 207.39 L794.95 206.95 L796.11 206.52 L797.27 206.10 L798.43 205.68 L799.59 205.27 L800.75 204.87 L801.91 204.48 L803.07 204.09 L804.23 203.71 L805.39 203.33 L806.56 202.96 L807.72 202.60 L808.88 202.25 L810.04 201.90 L811.20 201.56 L812.36 201.22 L813.52 200.89 L814.68 200.56 L815.84 200.24 L817.00 199.93" fill="none" stroke="#ff00ff" stroke-width="2.9"/>
<path d="M470.00 150.04 L471.16 149.63 L472.32 149.21 L473.48 148.78 L474.64 148.34 L475.80 147.90 L476.96 147.45 L478.12 146.99 L479.28 146.53 L480.44 146.05 L481.60 145.57 L482.76 145.08 L483.92 144.58 L485.08 144.07 L486.24 143.55 L487.40 143.02 L488.56 142.49 L489.73 141.94 L490.89 141.39 L492.05 140.82 L493.21 140.25 L494.37 139.67 L495.53 139.07 L496.69 138.47 L497.85 137.85 L499.01 137.23 L500.17 136.59 L501.33 135.95 L502.49 135.29 L503.65 134.62 L504.81 133.95 L505.97 133.26 L507.13 132.56 L508.29 131.84 L509.45 131.12 L510.62 130.38 L511.78 129.64 L512.94 128.88 L514.10 128.11 L515.26 127.32 L516.42 126.53 L517.58 125.72 L518.74 124.90 L519.90 124.07 L521.06 123.23 L522.22 122.37 L523.38 121.51 L524.54 120.63 L525.70 119.74 L526.86 118.83 L528.02 117.92 L529.18 116.99 L530.34 116.05 L531.51 115.10 L532.67 114.14 L533.83 113.17 L534.99 112.19 L536.15 111.20 L537.31 110.20 L538.47 109.18 L539.63 108.16 L540.79 107.13 L541.95 106.10 L543.11 105.05 L544.27 104.00 L545.43 102.94 L546.59 101.87 L547.75 100.80 L548.91 99.73 L550.07 98.65 L551.23 97.57 L552.39 96.49 L553.56 95.41 L554.72 94.33 L555.88 93.25 L557.04 92.17 L558.20 91.10 L559.36 90.04 L560.52 88.98 L561.68 87.94 L562.84 86.90 L564.00 85.88 L565.16 84.87 L566.32 83.88 L567.48 82.91 L568.64 81.96 L569.80 81.03 L570.96 80.13 L572.12 79.26 L573.28 78.42 L574.45 77.62 L575.61 76.85 L576.77 76.12 L577.93 75.44 L579.09 74.80 L580.25 74.21 L581.41 73.67 L582.57 73.19 L583.73 72.77 L584.89 72.41 L586.05 72.11 L587.21 71.89 L588.37 71.74 L589.53 71.67 L590.69 71.67 L591.85 71.77 L593.01 71.94 L594.17 72.21 L595.34 72.58 L596.50 73.04 L597.66 73.60 L598.82 74.27 L599.98 75.04 L601.14 75.92 L602.30 76.91 L603.46 78.02 L604.62 79.25 L605.78 80.59 L606.94 82.05 L608.10 83.63 L609.26 85.33 L610.42 87.16 L611.58 89.11 L612.74 91.18 L613.90 93.36 L615.06 95.67 L616.23 98.10 L617.39 100.65 L618.55 103.30 L619.71 106.07 L620.87 108.95 L622.03 111.93 L623.19 115.01 L624.35 118.18 L625.51 121.45 L626.67 124.80 L627.83 128.22 L628.99 131.72 L630.15 135.29 L631.31 138.91 L632.47 142.58 L633.63 146.30 L634.79 150.06 L635.95 153.84 L637.11 157.64 L638.28 161.46 L639.44 165.28 L640.60 169.09 L641.76 172.90 L642.92 176.68 L644.08 180.44 L645.24 184.16 L646.40 187.84 L647.56 191.47 L648.72 195.04 L649.88 198.55 L651.04 201.98 L652.20 205.35 L653.36 208.63 L654.52 211.82 L655.68 214.92 L656.84 217.93 L658.00 220.84 L659.17 223.64 L660.33 226.34 L661.49 228.93 L662.65 231.41 L663.81 233.77 L664.97 236.02 L666.13 238.16 L667.29 240.18 L668.45 242.09 L669.61 243.87 L670.77 245.55 L671.93 247.11 L673.09 248.56 L674.25 249.90 L675.41 251.13 L676.57 252.25 L677.73 253.27 L678.89 254.18 L680.06 255.00 L681.22 255.71 L682.38 256.34 L683.54 256.87 L684.70 257.31 L685.86 257.67 L687.02 257.95 L688.18 258.15 L689.34 258.28 L690.50 258.33 L691.66 258.31 L692.82 258.23 L693.98 258.09 L695.14 257.89 L696.30 257.63 L697.46 257.32 L698.62 256.97 L699.78 256.56 L700.95 256.11 L702.11 255.63 L703.27 255.10 L704.43 254.54 L705.59 253.95 L706.75 253.32 L707.91 252.67 L709.07 252.00 L710.23 251.30 L711.39 250.58 L712.55 249.84 L713.71 249.08 L714.87 248.31 L716.03 247.52 L717.19 246.73 L718.35 245.92 L719.51 245.11 L720.67 244.28 L721.84 243.45 L723.00 242.62 L724.16 241.78 L725.32 240.94 L726.48 240.10 L727.64 239.26 L728.80 238.42 L729.96 237.58 L731.12 236.75 L732.28 235.91 L733.44 235.08 L734.60 234.26 L735.76 233.44 L736.92 232.62 L738.08 231.81 L739.24 231.01 L740.40 230.21 L741.56 229.42 L742.72 228.64 L743.89 227.87 L745.05 227.10 L746.21 226.35 L747.37 225.60 L748.53 224.86 L749.69 224.13 L750.85 223.40 L752.01 222.69 L753.17 221.99 L754.33 221.29 L755.49 220.61 L756.65 219.93 L757.81 219.27 L758.97 218.61 L760.13 217.97 L761.29 217.33 L762.45 216.70 L763.61 216.08 L764.78 215.47 L765.94 214.88 L767.10 214.29 L768.26 213.71 L769.42 213.14 L770.58 212.57 L771.74 212.02 L772.90 211.48 L774.06 210.95 L775.22 210.42 L776.38 209.90 L777.54 209.40 L778.70 208.90 L779.86 208.41 L781.02 207.92 L782.18 207.45 L783.34 206.98 L784.50 206.52 L785.67 206.07 L786.83 205.63 L787.99 205.20 L789.15 204.77 L790.31 204.35 L791.47 203.94 L792.63 203.53 L793.79 203.14 L794.95 202.75 L796.11 202.36 L797.27 201.99 L798.43 201.62 L799.59 201.25 L800.75 200.89 L801.91 200.54 L803.07 200.20 L804.23 199.86 L805.39 199.53 L806.56 199.20 L807.72 198.88 L808.88 198.56 L810.04 198.25 L811.20 197.95 L812.36 197.65 L813.52 197.36 L814.68 197.07 L815.84 196.79 L817.00 196.51" fill="none" stroke="#0000ff" stroke-width="2.8" stroke-dasharray="6.5 6.2"/>
<path d="M470.00 146.24 L471.16 145.79 L472.32 145.32 L473.48 144.85 L474.64 144.37 L475.80 143.89 L476.96 143.39 L478.12 142.89 L479.28 142.37 L480.44 141.85 L481.60 141.32 L482.76 140.78 L483.92 140.23 L485.08 139.67 L486.24 139.10 L487.40 138.53 L488.56 137.94 L489.73 137.34 L490.89 136.73 L492.05 136.11 L493.21 135.48 L494.37 134.84 L495.53 134.19 L496.69 133.53 L497.85 132.85 L499.01 132.17 L500.17 131.47 L501.33 130.76 L502.49 130.04 L503.65 129.31 L504.81 128.57 L505.97 127.81 L507.13 127.04 L508.29 126.26 L509.45 125.47 L510.62 124.66 L511.78 123.84 L512.94 123.01 L514.10 122.17 L515.26 121.31 L516.42 120.44 L517.58 119.55 L518.74 118.65 L519.90 117.74 L521.06 116.82 L522.22 115.88 L523.38 114.93 L524.54 113.96 L525.70 112.98 L526.86 111.99 L528.02 110.99 L529.18 109.97 L530.34 108.94 L531.51 107.90 L532.67 106.84 L533.83 105.77 L534.99 104.69 L536.15 103.60 L537.31 102.50 L538.47 101.38 L539.63 100.26 L540.79 99.12 L541.95 97.98 L543.11 96.82 L544.27 95.66 L545.43 94.49 L546.59 93.31 L547.75 92.12 L548.91 90.93 L550.07 89.74 L551.23 88.54 L552.39 87.33 L553.56 86.13 L554.72 84.92 L555.88 83.72 L557.04 82.51 L558.20 81.31 L559.36 80.12 L560.52 78.93 L561.68 77.74 L562.84 76.57 L564.00 75.41 L565.16 74.27 L566.32 73.13 L567.48 72.02 L568.64 70.93 L569.80 69.86 L570.96 68.81 L572.12 67.79 L573.28 66.81 L574.45 65.85 L575.61 64.93 L576.77 64.05 L577.93 63.21 L579.09 62.42 L580.25 61.68 L581.41 60.98 L582.57 60.35 L583.73 59.77 L584.89 59.25 L586.05 58.80 L587.21 58.42 L588.37 58.11 L589.53 57.88 L590.69 57.73 L591.85 57.67 L593.01 57.69 L594.17 57.80 L595.34 58.01 L596.50 58.32 L597.66 58.73 L598.82 59.24 L599.98 59.87 L601.14 60.60 L602.30 61.45 L603.46 62.41 L604.62 63.49 L605.78 64.69 L606.94 66.02 L608.10 67.47 L609.26 69.04 L610.42 70.73 L611.58 72.56 L612.74 74.50 L613.90 76.58 L615.06 78.77 L616.23 81.09 L617.39 83.53 L618.55 86.09 L619.71 88.76 L620.87 91.55 L622.03 94.44 L623.19 97.44 L624.35 100.54 L625.51 103.74 L626.67 107.02 L627.83 110.39 L628.99 113.84 L630.15 117.36 L631.31 120.94 L632.47 124.59 L633.63 128.28 L634.79 132.01 L635.95 135.78 L637.11 139.58 L638.28 143.39 L639.44 147.22 L640.60 151.04 L641.76 154.87 L642.92 158.68 L644.08 162.47 L645.24 166.22 L646.40 169.95 L647.56 173.63 L648.72 177.26 L649.88 180.83 L651.04 184.33 L652.20 187.77 L653.36 191.13 L654.52 194.41 L655.68 197.60 L656.84 200.70 L658.00 203.71 L659.17 206.61 L660.33 209.42 L661.49 212.12 L662.65 214.72 L663.81 217.20 L664.97 219.58 L666.13 221.84 L667.29 223.99 L668.45 226.03 L669.61 227.96 L670.77 229.77 L671.93 231.48 L673.09 233.07 L674.25 234.55 L675.41 235.93 L676.57 237.20 L677.73 238.37 L678.89 239.44 L680.06 240.41 L681.22 241.28 L682.38 242.06 L683.54 242.75 L684.70 243.35 L685.86 243.86 L687.02 244.30 L688.18 244.66 L689.34 244.94 L690.50 245.15 L691.66 245.29 L692.82 245.37 L693.98 245.38 L695.14 245.33 L696.30 245.23 L697.46 245.08 L698.62 244.87 L699.78 244.62 L700.95 244.32 L702.11 243.99 L703.27 243.61 L704.43 243.20 L705.59 242.75 L706.75 242.27 L707.91 241.76 L709.07 241.23 L710.23 240.67 L711.39 240.09 L712.55 239.49 L713.71 238.87 L714.87 238.23 L716.03 237.58 L717.19 236.92 L718.35 236.24 L719.51 235.55 L720.67 234.86 L721.84 234.15 L723.00 233.44 L724.16 232.73 L725.32 232.01 L726.48 231.29 L727.64 230.57 L728.80 229.84 L729.96 229.12 L731.12 228.39 L732.28 227.67 L733.44 226.95 L734.60 226.23 L735.76 225.52 L736.92 224.81 L738.08 224.10 L739.24 223.40 L740.40 222.70 L741.56 222.01 L742.72 221.33 L743.89 220.65 L745.05 219.98 L746.21 219.31 L747.37 218.65 L748.53 218.00 L749.69 217.36 L750.85 216.73 L752.01 216.10 L753.17 215.48 L754.33 214.87 L755.49 214.27 L756.65 213.67 L757.81 213.08 L758.97 212.51 L760.13 211.94 L761.29 211.38 L762.45 210.82 L763.61 210.28 L764.78 209.74 L765.94 209.21 L767.10 208.70 L768.26 208.18 L769.42 207.68 L770.58 207.19 L771.74 206.70 L772.90 206.22 L774.06 205.75 L775.22 205.29 L776.38 204.83 L777.54 204.39 L778.70 203.95 L779.86 203.51 L781.02 203.09 L782.18 202.67 L783.34 202.26 L784.50 201.86 L785.67 201.46 L786.83 201.07 L787.99 200.69 L789.15 200.32 L790.31 199.95 L791.47 199.59 L792.63 199.23 L793.79 198.88 L794.95 198.54 L796.11 198.20 L797.27 197.87 L798.43 197.55 L799.59 197.23 L800.75 196.92 L801.91 196.61 L803.07 196.31 L804.23 196.01 L805.39 195.72 L806.56 195.44 L807.72 195.16 L808.88 194.88 L810.04 194.61 L811.20 194.35 L812.36 194.09 L813.52 193.83 L814.68 193.58 L815.84 193.33 L817.00 193.09" fill="none" stroke="#ff0000" stroke-width="2.8" stroke-dasharray="0.7 3.9"/>
<path d="M470.00 142.44 L471.16 141.95 L472.32 141.44 L473.48 140.93 L474.64 140.41 L475.80 139.87 L476.96 139.33 L478.12 138.78 L479.28 138.22 L480.44 137.65 L481.60 137.07 L482.76 136.49 L483.92 135.89 L485.08 135.28 L486.24 134.66 L487.40 134.03 L488.56 133.39 L489.73 132.74 L490.89 132.07 L492.05 131.40 L493.21 130.71 L494.37 130.02 L495.53 129.31 L496.69 128.59 L497.85 127.85 L499.01 127.11 L500.17 126.35 L501.33 125.58 L502.49 124.80 L503.65 124.00 L504.81 123.19 L505.97 122.37 L507.13 121.53 L508.29 120.68 L509.45 119.82 L510.62 118.94 L511.78 118.05 L512.94 117.14 L514.10 116.23 L515.26 115.29 L516.42 114.34 L517.58 113.38 L518.74 112.40 L519.90 111.41 L521.06 110.41 L522.22 109.38 L523.38 108.35 L524.54 107.30 L525.70 106.23 L526.86 105.15 L528.02 104.06 L529.18 102.95 L530.34 101.83 L531.51 100.69 L532.67 99.54 L533.83 98.38 L534.99 97.20 L536.15 96.01 L537.31 94.80 L538.47 93.58 L539.63 92.35 L540.79 91.11 L541.95 89.86 L543.11 88.60 L544.27 87.32 L545.43 86.04 L546.59 84.75 L547.75 83.44 L548.91 82.14 L550.07 80.82 L551.23 79.50 L552.39 78.17 L553.56 76.85 L554.72 75.51 L555.88 74.18 L557.04 72.85 L558.20 71.52 L559.36 70.19 L560.52 68.87 L561.68 67.55 L562.84 66.25 L564.00 64.95 L565.16 63.66 L566.32 62.39 L567.48 61.13 L568.64 59.90 L569.80 58.68 L570.96 57.49 L572.12 56.33 L573.28 55.19 L574.45 54.08 L575.61 53.01 L576.77 51.98 L577.93 50.99 L579.09 50.04 L580.25 49.15 L581.41 48.30 L582.57 47.50 L583.73 46.77 L584.89 46.10 L586.05 45.49 L587.21 44.95 L588.37 44.49 L589.53 44.10 L590.69 43.79 L591.85 43.57 L593.01 43.44 L594.17 43.39 L595.34 43.45 L596.50 43.60 L597.66 43.86 L598.82 44.22 L599.98 44.69 L601.14 45.28 L602.30 45.98 L603.46 46.80 L604.62 47.74 L605.78 48.80 L606.94 49.99 L608.10 51.30 L609.26 52.74 L610.42 54.31 L611.58 56.01 L612.74 57.83 L613.90 59.79 L615.06 61.87 L616.23 64.08 L617.39 66.41 L618.55 68.87 L619.71 71.45 L620.87 74.15 L622.03 76.96 L623.19 79.88 L624.35 82.90 L625.51 86.03 L626.67 89.25 L627.83 92.56 L628.99 95.96 L630.15 99.43 L631.31 102.98 L632.47 106.59 L633.63 110.25 L634.79 113.97 L635.95 117.72 L637.11 121.51 L638.28 125.32 L639.44 129.16 L640.60 133.00 L641.76 136.84 L642.92 140.67 L644.08 144.49 L645.24 148.29 L646.40 152.06 L647.56 155.79 L648.72 159.47 L649.88 163.10 L651.04 166.68 L652.20 170.19 L653.36 173.63 L654.52 176.99 L655.68 180.27 L656.84 183.47 L658.00 186.57 L659.17 189.59 L660.33 192.50 L661.49 195.32 L662.65 198.03 L663.81 200.63 L664.97 203.13 L666.13 205.52 L667.29 207.81 L668.45 209.98 L669.61 212.04 L670.77 214.00 L671.93 215.84 L673.09 217.58 L674.25 219.21 L675.41 220.74 L676.57 222.16 L677.73 223.48 L678.89 224.70 L680.06 225.82 L681.22 226.85 L682.38 227.78 L683.54 228.62 L684.70 229.38 L685.86 230.06 L687.02 230.65 L688.18 231.16 L689.34 231.60 L690.50 231.97 L691.66 232.27 L692.82 232.50 L693.98 232.67 L695.14 232.78 L696.30 232.83 L697.46 232.83 L698.62 232.78 L699.78 232.68 L700.95 232.53 L702.11 232.34 L703.27 232.12 L704.43 231.85 L705.59 231.55 L706.75 231.22 L707.91 230.85 L709.07 230.46 L710.23 230.04 L711.39 229.60 L712.55 229.14 L713.71 228.66 L714.87 228.16 L716.03 227.64 L717.19 227.10 L718.35 226.56 L719.51 226.00 L720.67 225.43 L721.84 224.85 L723.00 224.27 L724.16 223.68 L725.32 223.08 L726.48 222.47 L727.64 221.87 L728.80 221.26 L729.96 220.65 L731.12 220.04 L732.28 219.43 L733.44 218.81 L734.60 218.20 L735.76 217.60 L736.92 216.99 L738.08 216.39 L739.24 215.79 L740.40 215.19 L741.56 214.60 L742.72 214.01 L743.89 213.43 L745.05 212.85 L746.21 212.28 L747.37 211.71 L748.53 211.15 L749.69 210.60 L750.85 210.05 L752.01 209.51 L753.17 208.97 L754.33 208.44 L755.49 207.92 L756.65 207.41 L757.81 206.90 L758.97 206.40 L760.13 205.91 L761.29 205.42 L762.45 204.95 L763.61 204.47 L764.78 204.01 L765.94 203.55 L767.10 203.10 L768.26 202.66 L769.42 202.23 L770.58 201.80 L771.74 201.38 L772.90 200.96 L774.06 200.56 L775.22 200.16 L776.38 199.76 L777.54 199.38 L778.70 199.00 L779.86 198.62 L781.02 198.26 L782.18 197.89 L783.34 197.54 L784.50 197.19 L785.67 196.85 L786.83 196.52 L787.99 196.19 L789.15 195.86 L790.31 195.55 L791.47 195.24 L792.63 194.93 L793.79 194.63 L794.95 194.33 L796.11 194.05 L797.27 193.76 L798.43 193.48 L799.59 193.21 L800.75 192.94 L801.91 192.68 L803.07 192.42 L804.23 192.17 L805.39 191.92 L806.56 191.67 L807.72 191.43 L808.88 191.20 L810.04 190.97 L811.20 190.74 L812.36 190.52 L813.52 190.30 L814.68 190.09 L815.84 189.88 L817.00 189.67" fill="none" stroke="#00ff00" stroke-width="2.6" stroke-dasharray="7 3.45 0.8 3.45"/>
<path d="M470.00 138.65 L471.16 138.11 L472.32 137.56 L473.48 137.00 L474.64 136.44 L475.80 135.86 L476.96 135.27 L478.12 134.68 L479.28 134.07 L480.44 133.46 L481.60 132.83 L482.76 132.19 L483.92 131.54 L485.08 130.88 L486.24 130.21 L487.40 129.53 L488.56 128.84 L489.73 128.13 L490.89 127.42 L492.05 126.69 L493.21 125.95 L494.37 125.19 L495.53 124.42 L496.69 123.64 L497.85 122.85 L499.01 122.05 L500.17 121.23 L501.33 120.39 L502.49 119.55 L503.65 118.69 L504.81 117.81 L505.97 116.92 L507.13 116.02 L508.29 115.10 L509.45 114.17 L510.62 113.22 L511.78 112.26 L512.94 111.28 L514.10 110.28 L515.26 109.28 L516.42 108.25 L517.58 107.21 L518.74 106.15 L519.90 105.08 L521.06 103.99 L522.22 102.89 L523.38 101.77 L524.54 100.64 L525.70 99.48 L526.86 98.32 L528.02 97.13 L529.18 95.93 L530.34 94.72 L531.51 93.49 L532.67 92.24 L533.83 90.98 L534.99 89.70 L536.15 88.41 L537.31 87.10 L538.47 85.78 L539.63 84.45 L540.79 83.10 L541.95 81.74 L543.11 80.37 L544.27 78.98 L545.43 77.59 L546.59 76.18 L547.75 74.77 L548.91 73.34 L550.07 71.91 L551.23 70.46 L552.39 69.02 L553.56 67.57 L554.72 66.11 L555.88 64.65 L557.04 63.19 L558.20 61.73 L559.36 60.27 L560.52 58.81 L561.68 57.36 L562.84 55.92 L564.00 54.48 L565.16 53.06 L566.32 51.65 L567.48 50.25 L568.64 48.87 L569.80 47.51 L570.96 46.17 L572.12 44.86 L573.28 43.57 L574.45 42.32 L575.61 41.10 L576.77 39.91 L577.93 38.77 L579.09 37.67 L580.25 36.61 L581.41 35.61 L582.57 34.66 L583.73 33.77 L584.89 32.94 L586.05 32.18 L587.21 31.48 L588.37 30.86 L589.53 30.31 L590.69 29.85 L591.85 29.47 L593.01 29.18 L594.17 28.98 L595.34 28.88 L596.50 28.88 L597.66 28.99 L598.82 29.20 L599.98 29.52 L601.14 29.96 L602.30 30.51 L603.46 31.19 L604.62 31.98 L605.78 32.91 L606.94 33.95 L608.10 35.13 L609.26 36.44 L610.42 37.88 L611.58 39.46 L612.74 41.16 L613.90 43.00 L615.06 44.97 L616.23 47.07 L617.39 49.30 L618.55 51.66 L619.71 54.14 L620.87 56.74 L622.03 59.47 L623.19 62.31 L624.35 65.26 L625.51 68.32 L626.67 71.48 L627.83 74.73 L628.99 78.08 L630.15 81.51 L631.31 85.01 L632.47 88.59 L633.63 92.23 L634.79 95.92 L635.95 99.66 L637.11 103.44 L638.28 107.26 L639.44 111.10 L640.60 114.95 L641.76 118.81 L642.92 122.67 L644.08 126.52 L645.24 130.36 L646.40 134.17 L647.56 137.95 L648.72 141.69 L649.88 145.38 L651.04 149.03 L652.20 152.61 L653.36 156.13 L654.52 159.58 L655.68 162.95 L656.84 166.24 L658.00 169.44 L659.17 172.56 L660.33 175.58 L661.49 178.51 L662.65 181.34 L663.81 184.06 L664.97 186.69 L666.13 189.21 L667.29 191.62 L668.45 193.93 L669.61 196.13 L670.77 198.22 L671.93 200.21 L673.09 202.09 L674.25 203.87 L675.41 205.54 L676.57 207.11 L677.73 208.58 L678.89 209.95 L680.06 211.23 L681.22 212.41 L682.38 213.50 L683.54 214.50 L684.70 215.42 L685.86 216.25 L687.02 217.00 L688.18 217.67 L689.34 218.26 L690.50 218.79 L691.66 219.24 L692.82 219.63 L693.98 219.96 L695.14 220.22 L696.30 220.43 L697.46 220.58 L698.62 220.68 L699.78 220.74 L700.95 220.74 L702.11 220.70 L703.27 220.62 L704.43 220.51 L705.59 220.35 L706.75 220.16 L707.91 219.94 L709.07 219.70 L710.23 219.42 L711.39 219.12 L712.55 218.79 L713.71 218.44 L714.87 218.08 L716.03 217.69 L717.19 217.29 L718.35 216.88 L719.51 216.45 L720.67 216.01 L721.84 215.55 L723.00 215.09 L724.16 214.62 L725.32 214.14 L726.48 213.66 L727.64 213.17 L728.80 212.68 L729.96 212.18 L731.12 211.68 L732.28 211.18 L733.44 210.68 L734.60 210.18 L735.76 209.67 L736.92 209.17 L738.08 208.67 L739.24 208.17 L740.40 207.68 L741.56 207.18 L742.72 206.69 L743.89 206.21 L745.05 205.72 L746.21 205.24 L747.37 204.77 L748.53 204.30 L749.69 203.83 L750.85 203.37 L752.01 202.92 L753.17 202.47 L754.33 202.02 L755.49 201.58 L756.65 201.15 L757.81 200.72 L758.97 200.30 L760.13 199.88 L761.29 199.47 L762.45 199.07 L763.61 198.67 L764.78 198.28 L765.94 197.89 L767.10 197.51 L768.26 197.14 L769.42 196.77 L770.58 196.41 L771.74 196.05 L772.90 195.70 L774.06 195.36 L775.22 195.02 L776.38 194.69 L777.54 194.37 L778.70 194.04 L779.86 193.73 L781.02 193.42 L782.18 193.12 L783.34 192.82 L784.50 192.53 L785.67 192.24 L786.83 191.96 L787.99 191.68 L789.15 191.41 L790.31 191.14 L791.47 190.88 L792.63 190.63 L793.79 190.38 L794.95 190.13 L796.11 189.89 L797.27 189.65 L798.43 189.42 L799.59 189.19 L800.75 188.97 L801.91 188.75 L803.07 188.53 L804.23 188.32 L805.39 188.11 L806.56 187.91 L807.72 187.71 L808.88 187.52 L810.04 187.32 L811.20 187.14 L812.36 186.95 L813.52 186.77 L814.68 186.60 L815.84 186.42 L817.00 186.25" fill="none" stroke="#000000" stroke-width="2.8" stroke-dasharray="0.65 3.95"/>
<g font-family="Liberation Serif, serif" font-size="24.6" fill="#000" text-rendering="geometricPrecision">
<text x="95.90" y="309.40" text-anchor="middle" >0.4</text>
<text x="78.92" y="309.40" text-anchor="end" >−</text>
<text x="167.80" y="309.40" text-anchor="middle" >0.2</text>
<text x="150.82" y="309.40" text-anchor="end" >−</text>
<text x="239.50" y="309.40" text-anchor="middle" >0</text>
<text x="312.10" y="309.40" text-anchor="middle" >0.2</text>
<text x="384.20" y="309.40" text-anchor="middle" >0.4</text>
<text x="495.10" y="309.40" text-anchor="middle" >0.4</text>
<text x="477.32" y="309.40" text-anchor="end" >−</text>
<text x="566.50" y="309.40" text-anchor="middle" >0.2</text>
<text x="548.73" y="309.40" text-anchor="end" >−</text>
<text x="638.50" y="309.40" text-anchor="middle" >0</text>
<text x="710.60" y="309.40" text-anchor="middle" >0.2</text>
<text x="782.20" y="309.40" text-anchor="middle" >0.4</text>
<text x="59.00" y="18.55" text-anchor="end" >30</text>
<text x="59.00" y="95.55" text-anchor="end" >20</text>
<text x="59.00" y="177.20" text-anchor="end" >10</text>
<text x="59.00" y="257.55" text-anchor="end" >0</text>
<text x="458.70" y="19.20" text-anchor="end" >60</text>
<text x="458.70" y="74.20" text-anchor="end" >40</text>
<text x="458.70" y="129.80" text-anchor="end" >20</text>
<text x="458.70" y="182.55" text-anchor="end" >0</text>
<text x="458.70" y="242.05" text-anchor="end" >20</text>
<text x="458.70" y="296.30" text-anchor="end" >40</text>
<text x="434.60" y="242.05" text-anchor="end" >−</text>
<text x="434.00" y="296.30" text-anchor="end" >−</text>
<text x="246.00" y="331.40" text-anchor="middle" >Axial Position (mm)</text>
<text x="647.00" y="331.40" text-anchor="middle" >Axial Position (mm)</text>
<text x="75.00" y="23.60" text-anchor="start" >No Foci Offset</text>
<text x="478.00" y="23.40" text-anchor="start" >75μm Foci Offset</text>
<text x="651.60" y="53.00" text-anchor="start" >Power Imbalance</text>
<text transform="translate(26.6 254.3) rotate(-90)" text-anchor="start">Optical Force (pN)</text>
<text x="713.50" y="78.00" text-anchor="start" >0%</text>
<text x="713.50" y="98.20" text-anchor="start" >1%</text>
<text x="713.50" y="118.40" text-anchor="start" >2%</text>
<text x="713.50" y="138.60" text-anchor="start" >3%</text>
<text x="713.50" y="158.80" text-anchor="start" >4%</text>
</g>
<path d="M676.5 70.50 H709.5" stroke="#ff00ff" stroke-width="2.2"/>
<path d="M676.5 91.80 H709.5" stroke="#0000ff" stroke-width="2.3" stroke-dasharray="7.2 5.9"/>
<path d="M676.5 110.40 H709.5" stroke="#ff0000" stroke-width="2.6" stroke-dasharray="0.8 4.27"/>
<path d="M676.5 130.30 H709.5" stroke="#00ff00" stroke-width="2.3" stroke-dasharray="0.8 4.3 7 4.0"/>
<path d="M676.5 151.30 H709.5" stroke="#000000" stroke-width="2.6" stroke-dasharray="0.8 4.27"/>
</svg>
</body></html>
